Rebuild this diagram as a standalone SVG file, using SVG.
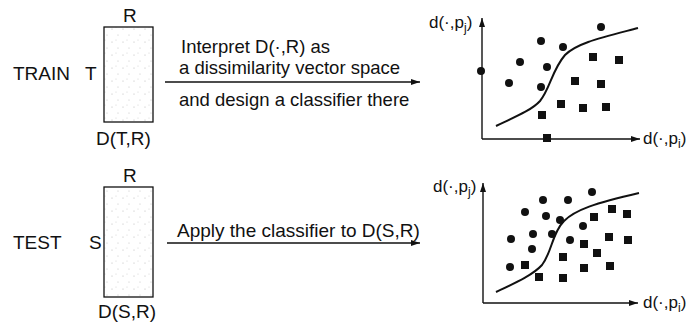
<svg xmlns="http://www.w3.org/2000/svg" width="691" height="326" viewBox="0 0 691 326">
<style>
text{font-family:"Liberation Sans",Arial,sans-serif;font-size:19px;fill:#111}
.mid{font-size:18.5px}
.ax{font-size:17px}
.ln{stroke:#111;stroke-width:1.4;fill:none}
.cv{stroke:#111;stroke-width:2;fill:none}
.mat{stroke:#111;stroke-width:1.3;fill:url(#stip)}
.c{fill:#111}
.s{fill:#111}
.sub{font-size:12px}
</style>
<defs>
<pattern id="stip" width="11" height="13" patternUnits="userSpaceOnUse">
<rect width="11" height="13" fill="#fff"/>
<circle cx="2" cy="3" r="0.6" fill="#bbb"/>
<circle cx="8" cy="9" r="0.6" fill="#c4c4c4"/>
<circle cx="6" cy="1" r="0.5" fill="#ccc"/>
</pattern>
<marker id="ah" markerWidth="9" markerHeight="6" refX="9" refY="3" orient="auto" markerUnits="userSpaceOnUse">
<path d="M0,0 L9,3 L0,6 Z" fill="#111"/>
</marker>
</defs>

<g id="train">
<text x="13" y="80">TRAIN</text>
<text x="85" y="80">T</text>
<text x="123" y="22">R</text>
<rect class="mat" x="104" y="27" width="49" height="95"/>
<text x="96" y="145">D(T,R)</text>
</g>

<g id="test">
<text x="13" y="249">TEST</text>
<text x="89" y="249">S</text>
<text x="123" y="182">R</text>
<rect class="mat" x="104" y="187" width="49" height="110"/>
<text x="98" y="318">D(S,R)</text>
</g>

<g id="connectors">
<line class="ln" x1="165" y1="82" x2="420" y2="82" marker-end="url(#ah)"/>
<line class="ln" x1="167" y1="243" x2="420" y2="243" marker-end="url(#ah)"/>
</g>

<g id="train-label">
<text class="mid" x="181" y="53">Interpret D(·,R) as</text>
<text class="mid" x="179" y="74">a dissimilarity vector space</text>
<text class="mid" x="179" y="106">and design a classifier there</text>
</g>

<g id="test-label">
<text x="177" y="237">Apply the classifier to D(S,R)</text>
</g>

<g id="plot-train">
<line class="ln" x1="482" y1="139" x2="482" y2="18" marker-end="url(#ah)"/>
<line class="ln" x1="482" y1="139" x2="640" y2="139" marker-end="url(#ah)"/>
<text class="ax" x="429" y="28">d(·,p<tspan class="sub" dy="4">j</tspan><tspan dy="-4">)</tspan></text>
<text class="ax" x="643" y="144">d(·,p<tspan class="sub" dy="4">i</tspan><tspan dy="-4">)</tspan></text>
<path class="cv" d="M496,126 C515,117 532,110 540,101 C550,89 552,70 565,55 C577,43 600,38 638,28"/>
<g class="c">
<circle cx="481" cy="71" r="4"/>
<circle cx="509" cy="83" r="4"/>
<circle cx="520" cy="62" r="4"/>
<circle cx="541" cy="41" r="4"/>
<circle cx="563" cy="47" r="4"/>
<circle cx="547" cy="67" r="4"/>
<circle cx="541" cy="87" r="4"/>
<circle cx="601" cy="27" r="4"/>
</g>
<g class="s">
<rect x="589" y="53" width="8" height="8"/>
<rect x="615" y="56" width="8" height="8"/>
<rect x="571" y="77" width="8" height="8"/>
<rect x="597" y="80" width="8" height="8"/>
<rect x="557" y="100" width="8" height="8"/>
<rect x="579" y="104" width="8" height="8"/>
<rect x="602" y="103" width="8" height="8"/>
<rect x="538" y="111" width="8" height="8"/>
<rect x="543" y="134" width="8" height="8"/>
</g>
</g>

<g id="plot-test">
<line class="ln" x1="483" y1="303" x2="483" y2="183" marker-end="url(#ah)"/>
<line class="ln" x1="483" y1="303" x2="638" y2="303" marker-end="url(#ah)"/>
<text class="ax" x="433" y="192">d(·,p<tspan class="sub" dy="4">j</tspan><tspan dy="-4">)</tspan></text>
<text class="ax" x="643" y="308">d(·,p<tspan class="sub" dy="4">i</tspan><tspan dy="-4">)</tspan></text>
<path class="cv" d="M496,292 C515,283 533,275 542,265 C552,252 552,233 564,221 C575,210 595,203 639,193"/>
<g class="c">
<circle cx="511" cy="239" r="4"/>
<circle cx="510" cy="267" r="4"/>
<circle cx="525" cy="212" r="4"/>
<circle cx="543" cy="200" r="4"/>
<circle cx="568" cy="200" r="4"/>
<circle cx="592" cy="192" r="4"/>
<circle cx="546" cy="216" r="4"/>
<circle cx="560" cy="220" r="4"/>
<circle cx="533" cy="234" r="4"/>
<circle cx="552" cy="234" r="4"/>
<circle cx="532" cy="249" r="4"/>
<circle cx="570" cy="240" r="4"/>
<circle cx="583" cy="226" r="4"/>
</g>
<g class="s">
<rect x="521" y="261" width="8" height="8"/>
<rect x="535" y="273" width="8" height="8"/>
<rect x="559" y="274" width="8" height="8"/>
<rect x="559" y="253" width="8" height="8"/>
<rect x="580" y="240" width="8" height="8"/>
<rect x="580" y="264" width="8" height="8"/>
<rect x="590" y="213" width="8" height="8"/>
<rect x="608" y="205" width="8" height="8"/>
<rect x="623" y="210" width="8" height="8"/>
<rect x="605" y="233" width="8" height="8"/>
<rect x="624" y="236" width="8" height="8"/>
<rect x="593" y="249" width="8" height="8"/>
<rect x="606" y="262" width="8" height="8"/>
</g>
</g>
</svg>
